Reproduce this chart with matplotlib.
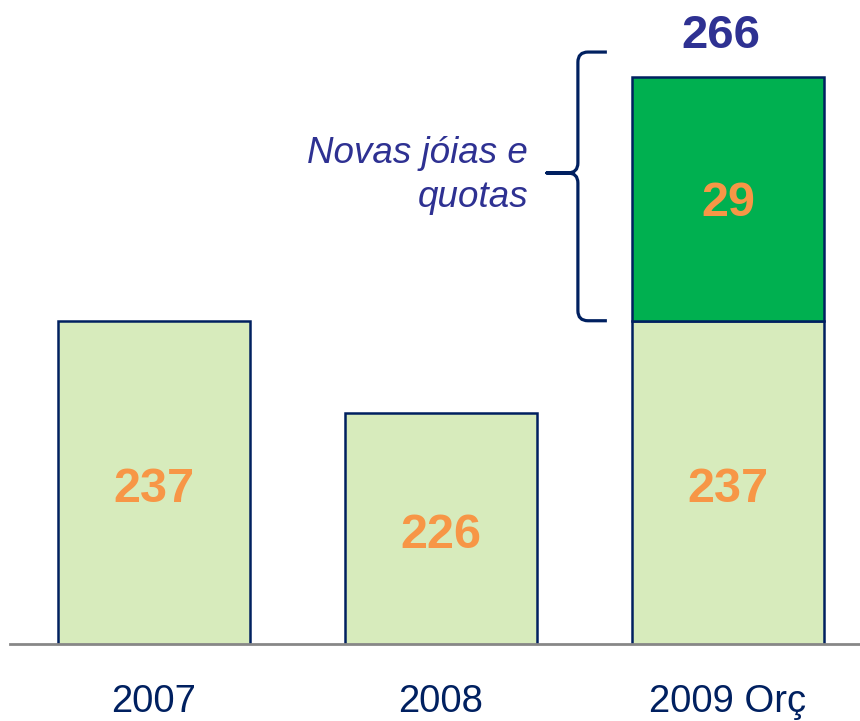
import matplotlib
matplotlib.use('Agg')
import matplotlib.pyplot as plt
from matplotlib.path import Path
from matplotlib.patches import PathPatch

plt.rcParams.update({'font.family': ['Liberation Sans', 'DejaVu Sans']})

categories = ['2007', '2008', '2009 Orç']
base = [237, 226, 237]
extra = [0, 0, 29]
total_label = 266
brace_text = 'Novas jóias e\nquotas'

light = '#D7EBBC'
dark = '#00B050'
edge = '#002060'
orange = '#F79646'
indigo = '#2E3192'

fig = plt.figure(figsize=(8.6, 7.21), dpi=100)
ax = fig.add_axes([0.0116, 0.1068, 0.9884, 0.8932])

x = list(range(len(categories)))
ax.bar(x, base, width=0.67, color=light, edgecolor=edge, linewidth=1.8, zorder=2)
ax.bar(x[2], extra[2], bottom=base[2], width=0.67, color=dark, edgecolor=edge,
       linewidth=1.8, zorder=2)

y0 = 198.5
ax.set_ylim(y0, 275.2)
ax.set_xlim(-0.502, 2.46)

# value labels centred in each segment (slightly below centre, as in the slide)
for i, v in enumerate(base):
    ax.annotate(str(v), xy=(i, (y0 + v) / 2), xytext=(0, -5),
                textcoords='offset points', ha='center', va='center',
                color=orange, fontsize=35, fontweight='bold', zorder=3)
ax.annotate(str(extra[2]), xy=(2, base[2] + extra[2] / 2), xytext=(0, -3),
            textcoords='offset points', ha='center', va='center',
            color=orange, fontsize=35, fontweight='bold', zorder=3)
ax.annotate(str(total_label), xy=(2, base[2] + extra[2]), xytext=(-5, 30),
            textcoords='offset points', ha='center', va='center', color=indigo,
            fontsize=34, fontweight='bold')

# curly brace next to the new segment
xv, xr, xtip = 1.477, 1.578, 1.369
ybot = base[2]
ytop = base[2] + extra[2] + 3
ymid = ybot + 0.55 * (ytop - ybot)
cx, ry = 0.035, 1.2
verts = [(xr, ytop), (xv + cx, ytop), (xv, ytop), (xv, ytop - ry),
         (xv, ymid + ry), (xv, ymid), (xv - cx, ymid), (xtip, ymid),
         (xv - cx, ymid), (xv, ymid), (xv, ymid - ry),
         (xv, ybot + ry), (xv, ybot), (xv + cx, ybot), (xr, ybot)]
codes = [Path.MOVETO, Path.LINETO, Path.CURVE3, Path.CURVE3,
         Path.LINETO, Path.CURVE3, Path.CURVE3, Path.LINETO,
         Path.LINETO, Path.CURVE3, Path.CURVE3,
         Path.LINETO, Path.CURVE3, Path.CURVE3, Path.LINETO]
ax.add_patch(PathPatch(Path(verts, codes), facecolor='none', edgecolor=edge,
                       linewidth=2.3, capstyle='butt', joinstyle='round'))
ax.text(xtip - 0.065, ymid - 0.3, brace_text, ha='right', va='center',
        color=indigo, fontsize=26.5, style='italic', linespacing=1.32)

for s in ['left', 'right', 'top']:
    ax.spines[s].set_visible(False)
ax.spines['bottom'].set_color('#878787')
ax.spines['bottom'].set_linewidth(2)
ax.spines['bottom'].set_zorder(4)
ax.set_yticks([])
ax.set_xticks(x)
ax.set_xticklabels(categories, fontsize=27.5, color=edge)
ax.tick_params(axis='x', length=0, pad=29)

fig.savefig('out.png', dpi=100)
